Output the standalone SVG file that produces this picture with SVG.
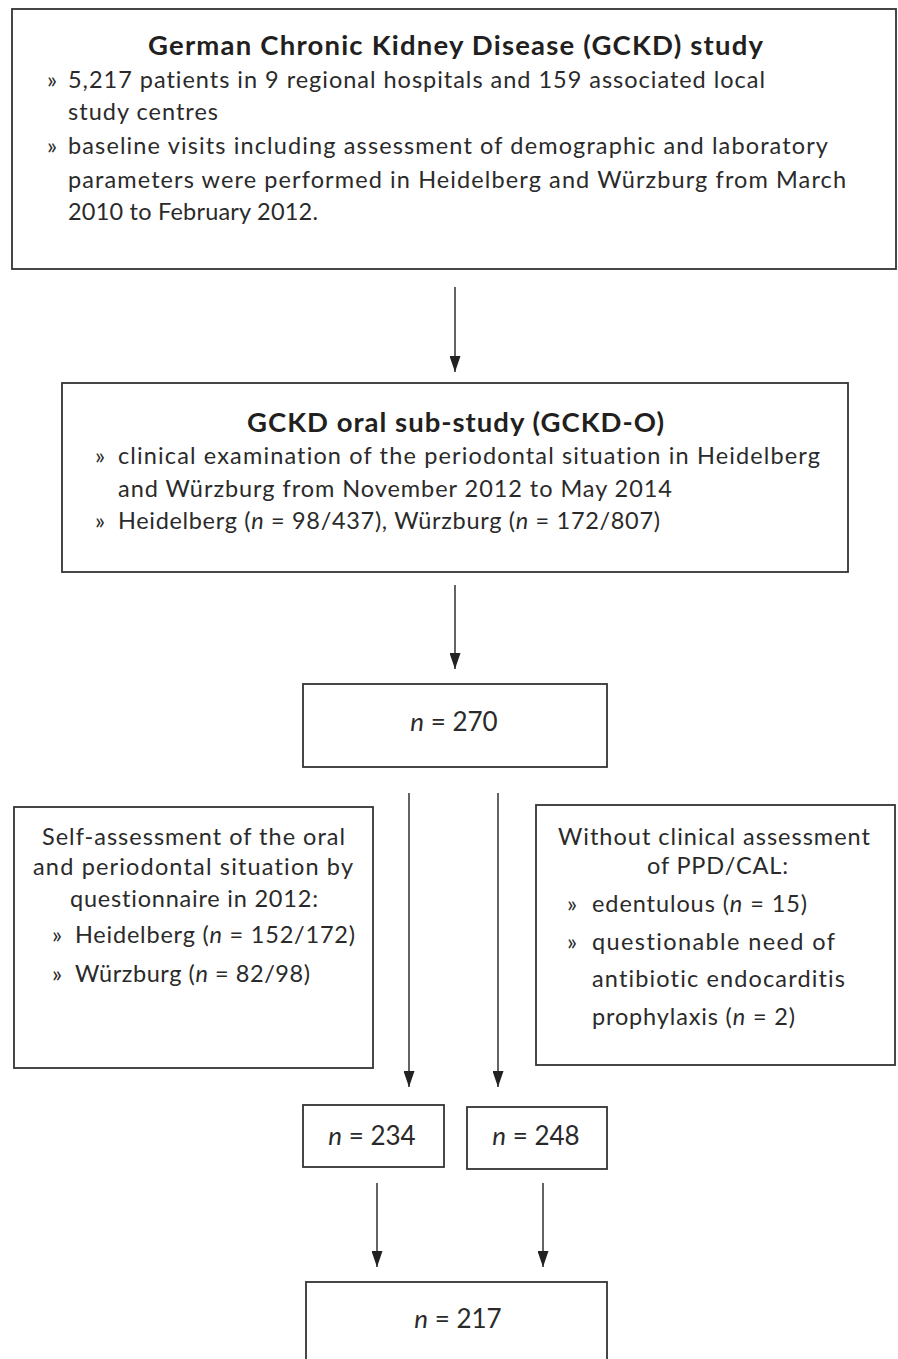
<svg xmlns="http://www.w3.org/2000/svg" width="898" height="1359" viewBox="0 0 898 1359">
<defs>
<style>
.box{fill:#fff;stroke:#333;stroke-width:1.8}
.t{font-family:Lato,"Liberation Sans",sans-serif;font-size:23.5px;fill:#2a2a2a;font-variant-ligatures:none}
.h{font-family:Lato,"Liberation Sans",sans-serif;font-size:27.5px;font-weight:bold;fill:#231f20}
.n{font-family:Lato,"Liberation Sans",sans-serif;font-size:26px;fill:#2a2a2a}
.c{text-anchor:middle}
.ln{stroke:#222;stroke-width:1.4;fill:none}
</style>
<marker id="ah" viewBox="0 0 16 11" refX="16" refY="5.5" markerWidth="16" markerHeight="11" markerUnits="userSpaceOnUse" orient="auto">
<path d="M0,0 L16,5.5 L0,11 Z" fill="#222"/>
</marker>
</defs>
<rect width="898" height="1359" fill="#fff"/>
<g id="connectors">
<line class="ln" x1="455" y1="287" x2="455" y2="372" marker-end="url(#ah)"/>
<line class="ln" x1="455" y1="585" x2="455" y2="669" marker-end="url(#ah)"/>
<line class="ln" x1="409" y1="793" x2="409" y2="1087" marker-end="url(#ah)"/>
<line class="ln" x1="498" y1="793" x2="498" y2="1087" marker-end="url(#ah)"/>
<line class="ln" x1="377" y1="1183" x2="377" y2="1267" marker-end="url(#ah)"/>
<line class="ln" x1="543" y1="1183" x2="543" y2="1267" marker-end="url(#ah)"/>
</g>
<g id="gckd">
<rect class="box" x="12" y="9" width="884" height="260"/>
<text class="h c" x="455.5" y="55" textLength="615" lengthAdjust="spacing">German Chronic Kidney Disease (GCKD) study</text>
<text class="t" x="47" y="88">»</text>
<text class="t" x="68" y="88" textLength="697" lengthAdjust="spacing">5,217 patients in 9 regional hospitals and 159 associated local</text>
<text class="t" x="68" y="120" textLength="150" lengthAdjust="spacing">study centres</text>
<text class="t" x="47" y="154">»</text>
<text class="t" x="68" y="154" textLength="760" lengthAdjust="spacing">baseline visits including assessment of demographic and laboratory</text>
<text class="t" x="68" y="188" textLength="778" lengthAdjust="spacing">parameters were performed in Heidelberg and Würzburg from March</text>
<text class="t" x="68" y="220" textLength="250" lengthAdjust="spacing">2010 to February 2012.</text>
</g>
<g id="gckd-o">
<rect class="box" x="62" y="383" width="786" height="189"/>
<text class="h c" x="455.5" y="432" textLength="417" lengthAdjust="spacing">GCKD oral sub-study (GCKD-O)</text>
<text class="t" x="95" y="464">»</text>
<text class="t" x="118" y="464" textLength="702" lengthAdjust="spacing">clinical examination of the periodontal situation in Heidelberg</text>
<text class="t" x="118" y="497" textLength="554" lengthAdjust="spacing">and Würzburg from November 2012 to May 2014</text>
<text class="t" x="95" y="529">»</text>
<text class="t" x="118" y="529" textLength="542" lengthAdjust="spacing">Heidelberg (<tspan font-style="italic">n</tspan> = 98/437), Würzburg (<tspan font-style="italic">n</tspan> = 172/807)</text>
</g>
<g id="n270">
<rect class="box" x="303" y="684" width="304" height="83"/>
<text class="n c" x="454" y="731"><tspan font-style="italic">n</tspan> = 270</text>
</g>
<g id="self">
<rect class="box" x="14" y="807" width="359" height="261"/>
<text class="t c" x="193.5" y="845" textLength="303" lengthAdjust="spacing">Self-assessment of the oral</text>
<text class="t c" x="193" y="875" textLength="320" lengthAdjust="spacing">and periodontal situation by</text>
<text class="t c" x="194" y="907" textLength="248" lengthAdjust="spacing">questionnaire in 2012:</text>
<text class="t" x="52" y="943">»</text>
<text class="t" x="75" y="943" textLength="280" lengthAdjust="spacing">Heidelberg (<tspan font-style="italic">n</tspan> = 152/172)</text>
<text class="t" x="52" y="982">»</text>
<text class="t" x="75" y="982" textLength="235" lengthAdjust="spacing">Würzburg (<tspan font-style="italic">n</tspan> = 82/98)</text>
</g>
<g id="without">
<rect class="box" x="536" y="805" width="359" height="260"/>
<text class="t c" x="714" y="845" textLength="312" lengthAdjust="spacing">Without clinical assessment</text>
<text class="t c" x="717.5" y="874" textLength="141" lengthAdjust="spacing">of PPD/CAL:</text>
<text class="t" x="567" y="912">»</text>
<text class="t" x="592" y="912" textLength="215" lengthAdjust="spacing">edentulous (<tspan font-style="italic">n</tspan> = 15)</text>
<text class="t" x="567" y="950">»</text>
<text class="t" x="592" y="950" textLength="243" lengthAdjust="spacing">questionable need of</text>
<text class="t" x="592" y="987" textLength="253" lengthAdjust="spacing">antibiotic endocarditis</text>
<text class="t" x="592" y="1025" textLength="203" lengthAdjust="spacing">prophylaxis (<tspan font-style="italic">n</tspan> = 2)</text>
</g>
<g id="n234">
<rect class="box" x="303" y="1105" width="141" height="62"/>
<text class="n c" x="372" y="1145"><tspan font-style="italic">n</tspan> = 234</text>
</g>
<g id="n248">
<rect class="box" x="467" y="1107" width="140" height="62"/>
<text class="n c" x="536" y="1145"><tspan font-style="italic">n</tspan> = 248</text>
</g>
<g id="n217">
<rect class="box" x="306" y="1282" width="301" height="100"/>
<text class="n c" x="458" y="1328"><tspan font-style="italic">n</tspan> = 217</text>
</g>
</svg>
